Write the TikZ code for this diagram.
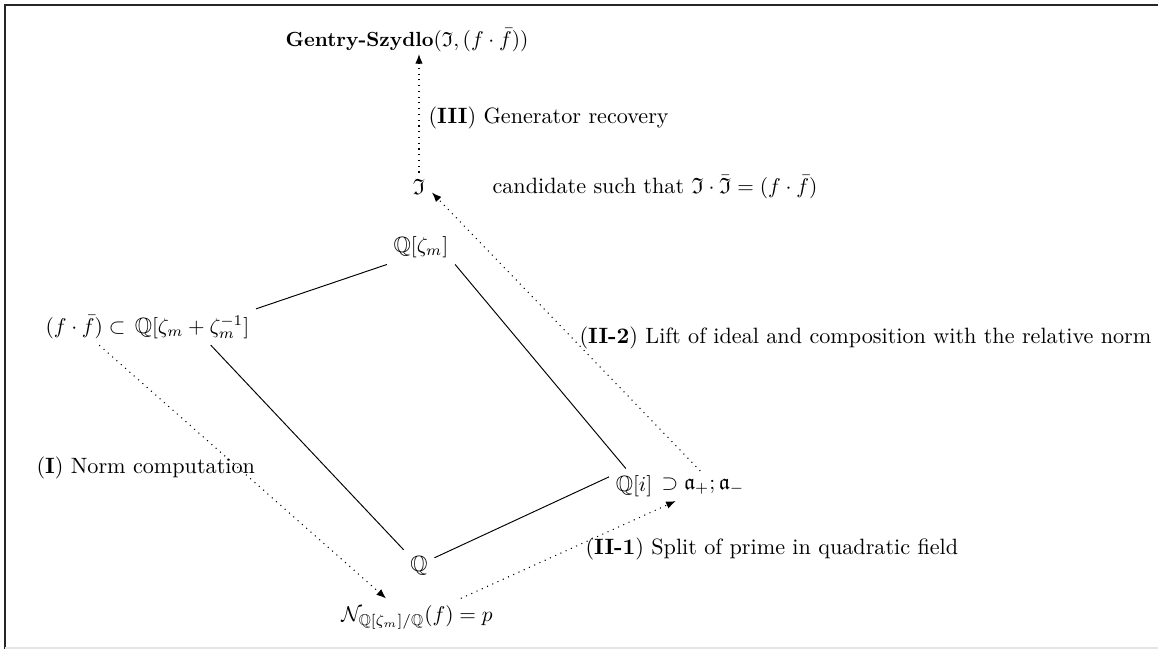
\documentclass[tikz,border=0pt]{standalone}
\usepackage{amsmath,amssymb}
\usetikzlibrary{arrows.meta}
\begin{document}
\begin{tikzpicture}[x=0.0165cm,y=-0.0165cm,
  font=\fontsize{10.4}{12.5}\selectfont,
  lbl/.style={inner sep=1pt,anchor=west},
  obj/.style={inner sep=3pt},
  solidline/.style={line width=0.45pt},
  dotarrow/.style={dash pattern=on 0.5pt off 2.2pt,line width=0.5pt,-{Latex[length=4.5pt,width=3.5pt]}}]
\useasboundingbox (0,0) rectangle (1158,649);
\draw[line width=1pt,black!85] (5,649) -- (5,5) -- (1158,5);
\draw[line width=0.6pt,black!10] (5,648) -- (1158,648);
% nodes
\node[lbl,font=\fontsize{9.6}{11.5}\selectfont] (GS) at (283,40) {\textbf{Gentry-Szydlo}$(\mathfrak{I},(f\cdot\bar f))$};
\node[obj] (I) at (419,187) {$\mathfrak{I}$};
\node[lbl] (cand) at (490,187) {candidate such that $\mathfrak{I}\cdot\bar{\mathfrak{I}}=(f\cdot\bar f)$};
\node[obj] (qz) at (421,247) {$\mathbb{Q}[\zeta_m]$};
\node[obj] (qr) at (192,327) {$\mathbb{Q}[\zeta_m+\zeta_m^{-1}]$};
\node[obj,anchor=base east,inner xsep=1pt] (ff) at (qr.base west) {$(f\cdot\bar f)\subset$};
\node[obj] (qi) at (634,486) {$\mathbb{Q}[i]$};
\node[obj,inner xsep=1pt,anchor=west] (sup) at (659,486) {$\supset\mathfrak{a}_+;\mathfrak{a}_-$};
\node[obj] (Q) at (419,566) {$\mathbb{Q}$};
\node[obj] (N) at (417,617) {$\mathcal{N}_{\mathbb{Q}[\zeta_m]/\mathbb{Q}}(f)=p$};
% labels
\node[lbl] (L3) at (426,118) {(\textbf{III}) Generator recovery};
\node[lbl] (L22) at (577,338) {(\textbf{II-2}) Lift of ideal and composition with the relative norm};
\node[lbl] (L21) at (583,549) {(\textbf{II-1}) Split of prime in quadratic field};
\node[lbl] (L1) at (34,468) {(\textbf{I}) Norm computation};
% solid lines
\draw[solidline] (qr.north east) -- (qz.south west);
\draw[solidline] (qz.south east) -- (qi.115);
\draw[solidline] (qr.-44) -- (Q.north west);
\draw[solidline] (Q.28) -- (qi.160);
% dotted arrows
\draw[dotarrow] (ff.-53) -- (N.149);
\draw[dotarrow] (N.23) -- (sup.209);
\draw[dotarrow] (sup.100) -- (I.-23);
\draw[dotarrow] (I.north) -- (I.north |- GS.south);
\end{tikzpicture}
\end{document}
